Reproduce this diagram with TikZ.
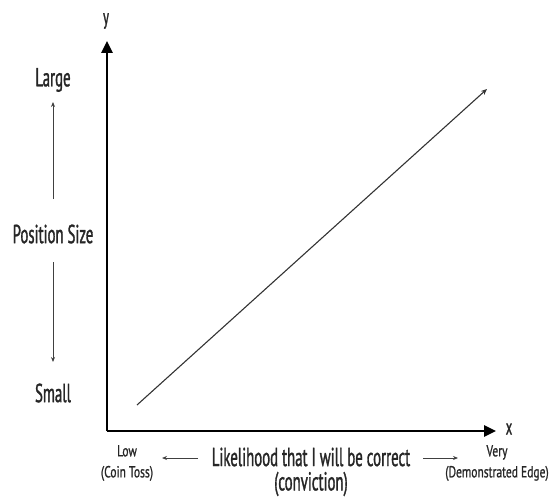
\documentclass[tikz,border=0pt]{standalone}
\usepackage{fontspec}
\newfontfamily\condfont{PT Sans}[FakeStretch=0.57,FakeBold=1.2]
\newfontfamily\notefont{PT Sans}[FakeStretch=0.72,FakeBold=1]
\usetikzlibrary{arrows.meta,positioning}

\begin{document}
\begin{tikzpicture}[
    x=1pt, y=-1pt,
    axis/.style={line width=2.6pt, -{Triangle[length=12pt,width=11pt]}},
    trend/.style={line width=1.1pt, draw=black!80, -{Stealth[length=6pt,width=5pt]}},
    hint/.style={line width=0.9pt, draw=black!75, -{Stealth[length=5pt,width=4pt]}},
    lbl/.style={font=\condfont\fontsize{26}{28}\selectfont, text=black!85, inner sep=0pt},
    axlbl/.style={font=\condfont\fontsize{22}{24}\selectfont, text=black!85, inner sep=0pt},
    small/.style={font=\notefont\fontsize{16}{21}\selectfont, text=black!85, inner sep=0pt, align=center},
    big/.style={font=\condfont\fontsize{26}{28}\selectfont, text=black!85, inner sep=0pt}
  ]
  \useasboundingbox (0,0) rectangle (551,497);

  % axes
  \coordinate (origin) at (107,431);
  \coordinate (ytop) at (107,41);
  \coordinate (xend) at (496,431);
  \draw[axis] (origin) -- (ytop);
  \draw[axis] (origin) -- (xend);
  \node[axlbl] (ylab) at (106,21) {y};
  \node[axlbl] (xlab) at (509,429) {x};

  % trend line
  \coordinate (tstart) at (137,405);
  \coordinate (tend) at (487,89);
  \draw[trend] (tstart) -- (tend);

  % position size scale
  \node[lbl] (large) at (53,80) {Large};
  \node[lbl] (possize) at (53,234) {Position Size};
  \node[lbl] (small) at (53,393) {Small};
  \draw[hint] (53,199) -- (53,102);
  \draw[hint] (53,262) -- (53,362);

  % likelihood scale
  \node[small] (low) at (127,463) {Low\\(Coin Toss)};
  \node[big] (likely) at (311,457) {Likelihood that I will be correct};
  \node[big] (conv) at (311,484) {(conviction)};
  \node[small] (very) at (497,463) {Very\\(Demonstrated Edge)};
  \draw[hint] (198,458) -- (162,458);
  \draw[hint] (423,458) -- (458,458);

\end{tikzpicture}
\end{document}
